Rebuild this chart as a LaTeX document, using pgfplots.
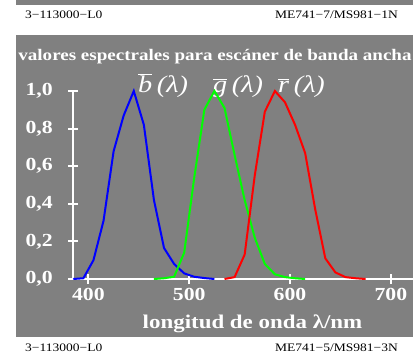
\documentclass[border=0pt]{standalone}
\usepackage{pgfplots}
\pgfplotsset{compat=1.18}
\usepackage{fontspec}
\setmainfont{Liberation Serif}
\usepackage{graphicx}
\definecolor{bg}{RGB}{128,128,128}
\newcommand\sx[1]{\scalebox{1.18}[1]{#1}}
\newcommand\lbl[1]{\sx{\fontsize{24}{26}\selectfont\itshape$\overline{\mbox{\itshape #1}}$\,(λ)}}

\pgfplotstableread{
x y
385 0
395 0.004
405 0.10
415 0.31
425 0.68
435 0.87
445 1.0
455 0.82
465 0.42
475 0.165
485 0.08
495 0.03
505 0.012
515 0.005
525 0
}\blue
\pgfplotstableread{
x y
465 0
475 0.004
485 0.012
495 0.14
505 0.54
515 0.9
525 1.0
535 0.91
545 0.66
555 0.42
565 0.22
575 0.08
585 0.025
595 0.01
605 0.004
615 0
}\green
\pgfplotstableread{
x y
535 0
545 0.01
555 0.13
565 0.55
575 0.89
585 1.0
595 0.94
605 0.82
615 0.67
625 0.37
635 0.11
645 0.035
655 0.01
665 0.004
675 0
}\red

\begin{document}
\begin{tikzpicture}[x=1bp,y=1bp]
\fill[white] (0,0) rectangle (413,355);
\fill[bg] (16,350) rectangle (413,355);
\fill[bg] (16,18) rectangle (413,320);
\node[anchor=base west, inner sep=0] at (25,336.7) {\sx{\fontsize{11.5}{12}\selectfont 3−113000−L0}};
\node[anchor=base east, inner sep=0] at (398,336.7) {\sx{\fontsize{11.5}{12}\selectfont ME741−7/MS981−1N}};
\node[anchor=base west, inner sep=0] at (25,4) {\sx{\fontsize{11.5}{12}\selectfont 3−113000−L0}};
\node[anchor=base east, inner sep=0] at (398,4) {\sx{\fontsize{11.5}{12}\selectfont ME741−5/MS981−3N}};
\node[anchor=base, inner sep=0, text=white] at (215,295) {\sx{\fontsize{16.2}{18}\selectfont\bfseries valores espectrales para escáner de banda ancha}};
\node[anchor=base, inner sep=0, text=white] at (252.5,27) {\sx{\fontsize{19.5}{20}\selectfont\bfseries longitud de onda λ/nm}};
\node[anchor=base west, inner sep=0, text=white] at (138,263) {\lbl{b}};
\node[anchor=base west, inner sep=0, text=white] at (213,263) {\lbl{g}};
\node[anchor=base west, inner sep=0, text=white] at (278,263) {\lbl{r}};
\begin{axis}[
  at={(73.3bp,76bp)}, anchor=south west, scale only axis,
  width=339.7bp, height=188bp,
  xmin=385, xmax=722, ymin=0, ymax=1,
  axis x line*=bottom, axis y line*=left,
  axis line style={white, line width=2bp},
  tick style={white, line width=2bp},
  major tick length=10bp, tick align=center,
  xtick={400,500,600,700},
  xticklabels={\sx{400},\sx{500},\sx{600},\sx{700}},
  ytick={0,0.2,0.4,0.6,0.8,1.0},
  yticklabels={\sx{0,0},\sx{0,2},\sx{0,4},\sx{0,6},\sx{0,8},\sx{1,0}},
  ticklabel style={font=\fontsize{18.5}{19}\selectfont\bfseries, text=white},
  xticklabel style={anchor=base, yshift=-16bp},
  yticklabel style={anchor=east, xshift=-12bp},
  clip=false,
]
\addplot[blue, line width=2bp] table {\blue};
\addplot[green, line width=2bp] table {\green};
\addplot[red, line width=2bp] table {\red};
\end{axis}
\pgfresetboundingbox
\useasboundingbox (0,0) rectangle (413,355);
\end{tikzpicture}
\end{document}
